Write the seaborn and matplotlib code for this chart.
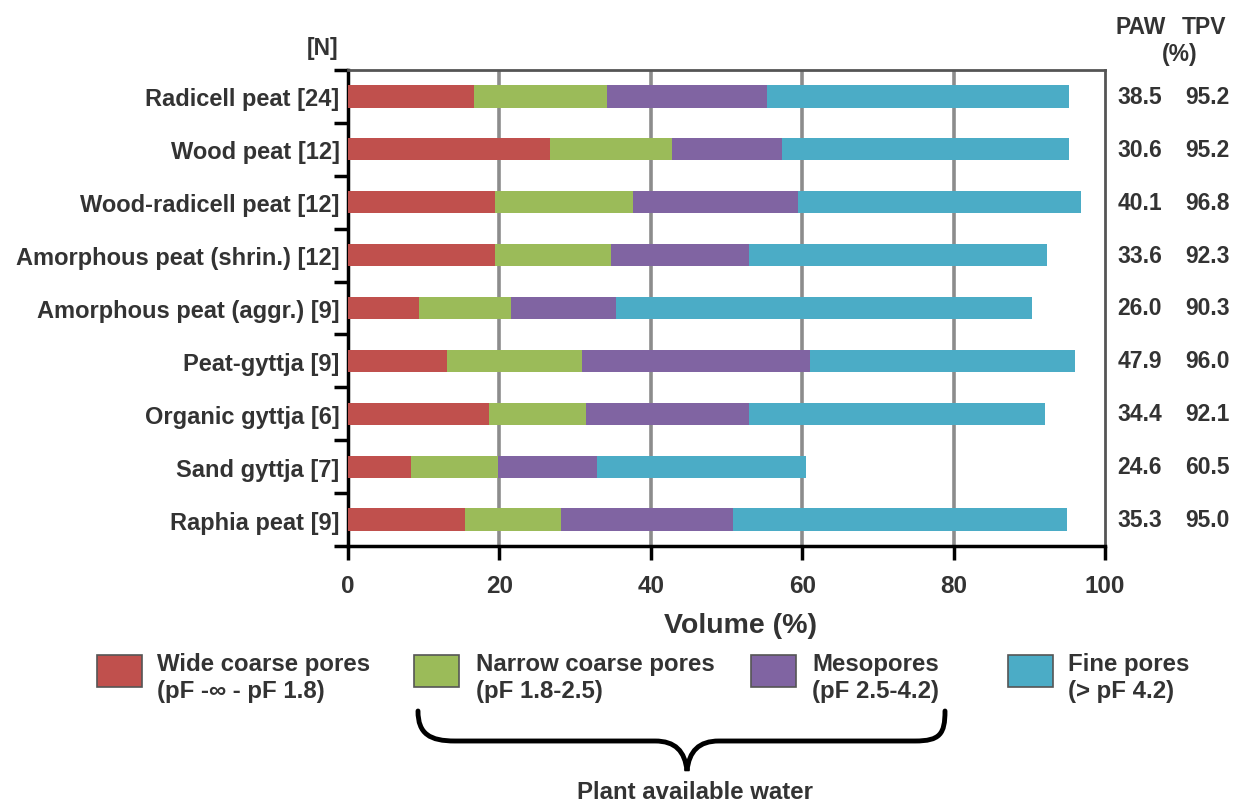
import numpy as np
import pandas as pd
import seaborn as sns
import matplotlib.pyplot as plt
from matplotlib.patches import Rectangle, PathPatch
from matplotlib.path import Path
from matplotlib.transforms import blended_transform_factory

# Data (segment widths, %)
peats = ['Radicell peat [24]', 'Wood peat [12]', 'Wood-radicell peat [12]',
         'Amorphous peat (shrin.) [12]', 'Amorphous peat (aggr.) [9]',
         'Peat-gyttja [9]', 'Organic gyttja [6]', 'Sand gyttja [7]', 'Raphia peat [9]']
wide_coarse = [16.7, 26.7, 19.4, 19.4, 9.4, 13.1, 18.6, 8.3, 15.5]
narrow_coarse = [17.5, 16.1, 18.3, 15.4, 12.1, 17.8, 12.8, 11.5, 12.7]
mesopores = [21.1, 14.5, 21.8, 18.2, 13.9, 30.1, 21.6, 13.1, 22.6]
fine = [39.9, 37.9, 37.3, 39.3, 54.9, 35.0, 39.1, 27.6, 44.2]
paw = ['38.5', '30.6', '40.1', '33.6', '26.0', '47.9', '34.4', '24.6', '35.3']
tpv = ['95.2', '95.2', '96.8', '92.3', '90.3', '96.0', '92.1', '60.5', '95.0']

series = ['Wide coarse pores', 'Narrow coarse pores', 'Mesopores', 'Fine pores']
series_sub = ['(pF -\u221e - pF 1.8)', '(pF 1.8-2.5)', '(pF 2.5-4.2)', '(> pF 4.2)']
colors = ['#C0504D', '#9BBB59', '#8064A2', '#4BACC6']

df = pd.DataFrame({'peat': peats, 'wide': wide_coarse, 'narrow': narrow_coarse,
                   'meso': mesopores, 'fine': fine})
cols = ['wide', 'narrow', 'meso', 'fine']
cum = df[cols].cumsum(axis=1)

sns.set_style("white")
plt.rcParams['font.family'] = ['Liberation Sans', 'DejaVu Sans']
plt.rcParams['font.weight'] = 'bold'
txt = '#333333'

W, H = 1250, 804
fig = plt.figure(figsize=(12.5, 8.04), dpi=100)
ax = fig.add_axes([348 / W, 1 - 547 / H, 757 / W, 476 / H])

# stacked: draw cumulative totals from largest to smallest
for col, c in zip(cols[::-1], colors[::-1]):
    sns.barplot(x=cum[col], y=df['peat'], orient='h', color=c, width=0.42,
                saturation=1, linewidth=0, ax=ax, zorder=3)

ax.set_xlim(0, 100)
ax.set_ylim(8.5, -0.5)
ax.set_xticks([0, 20, 40, 60, 80, 100])
ax.set_xlabel('')
ax.set_ylabel('')
for g in [20, 40, 60, 80]:
    ax.axvline(g, color='#8c8c8c', lw=2.6, zorder=1)

ax.tick_params(axis='x', bottom=True, direction='out', length=10, width=2.5, color='black',
               labelsize=17.5, labelcolor=txt, pad=10)
ax.tick_params(axis='y', which='major', left=False, length=0, labelsize=17,
               labelcolor=txt, pad=6)
ax.set_yticks(np.arange(-0.5, 9.0, 1.0), minor=True)
ax.tick_params(axis='y', which='minor', left=True, direction='out', length=10,
               width=2.5, color='black')
for lab in ax.get_xticklabels() + ax.get_yticklabels():
    lab.set_fontweight('bold')

for s in ['left', 'bottom']:
    ax.spines[s].set_color('black')
    ax.spines[s].set_linewidth(2.5)
for s in ['top', 'right']:
    ax.spines[s].set_color('#555555')
    ax.spines[s].set_linewidth(2)

# right-hand PAW / TPV columns
tr = blended_transform_factory(ax.transAxes, ax.transData)
for i in range(len(peats)):
    ax.text(1.046, i, paw[i], transform=tr, ha='center', va='center',
            fontsize=16.5, color=txt, fontweight='bold')
    ax.text(1.135, i, tpv[i], transform=tr, ha='center', va='center',
            fontsize=16.5, color=txt, fontweight='bold')

fig.text(1141 / W, 1 - 28 / H, 'PAW', ha='center', va='center', fontsize=16.5, color=txt, fontweight='bold')
fig.text(1204 / W, 1 - 28 / H, 'TPV', ha='center', va='center', fontsize=16.5, color=txt, fontweight='bold')
fig.text(1180 / W, 1 - 55 / H, '(%)', ha='center', va='center', fontsize=16.5, color=txt, fontweight='bold')
fig.text(338 / W, 1 - 49 / H, '[N]', ha='right', va='center', fontsize=16.5, color=txt, fontweight='bold')

fig.text(740 / W, 1 - 626 / H, 'Volume (%)', ha='center', va='center', fontsize=20.5,
         color=txt, fontweight='bold')

# legend
patch_x = [97, 414, 751, 1008]
text_x = [157, 476, 812, 1068]
for px, tx, c, name, sub in zip(patch_x, text_x, colors, series, series_sub):
    fig.add_artist(Rectangle((px / W, 1 - 688 / H), 45 / W, 32 / H, transform=fig.transFigure,
                             facecolor=c, edgecolor='#555555', lw=1.2))
    fig.text(tx / W, 1 - 665 / H, name, ha='left', va='center', fontsize=17.3,
             color=txt, fontweight='bold')
    fig.text(tx / W, 1 - 692 / H, sub, ha='left', va='center', fontsize=17.3,
             color=txt, fontweight='bold')

# brace under narrow coarse pores + mesopores
pts = [(418, 712), (418, 735), (430, 742), (455, 742), (655, 742),
       (675, 742), (685, 752), (687, 772), (689, 752), (699, 742), (719, 742),
       (915, 742), (940, 742), (945, 735), (945, 712)]
codes = [Path.MOVETO, Path.CURVE4, Path.CURVE4, Path.CURVE4, Path.LINETO,
         Path.CURVE4, Path.CURVE4, Path.CURVE4, Path.CURVE4, Path.CURVE4, Path.CURVE4,
         Path.LINETO, Path.CURVE4, Path.CURVE4, Path.CURVE4]
verts = [(x / W, 1 - y / H) for x, y in pts]
fig.add_artist(PathPatch(Path(verts, codes), transform=fig.transFigure,
                         facecolor='none', edgecolor='black', lw=3.5, capstyle='round'))
fig.text(695 / W, 1 - 793 / H, 'Plant available water', ha='center', va='center',
         fontsize=17.3, color=txt, fontweight='bold')

fig.savefig('out.png', dpi=100, facecolor='white')
